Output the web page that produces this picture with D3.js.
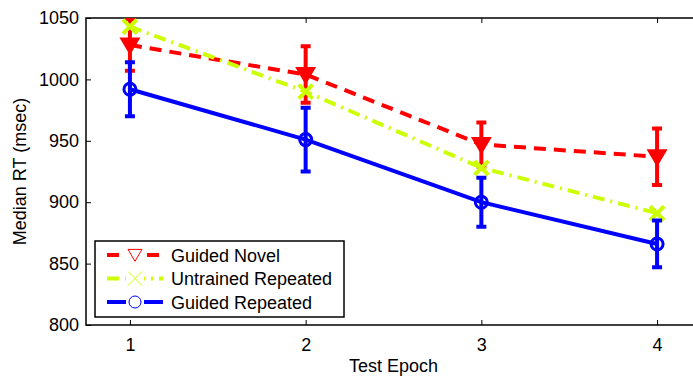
<!DOCTYPE html>
<html>
<head>
<meta charset="utf-8">
<script src="https://cdn.jsdelivr.net/npm/d3@7"></script>
<style>
  body { margin: 0; background: #fff; }
  text { font-family: "Liberation Sans", Arial, sans-serif; }
</style>
</head>
<body>
<svg id="chart" width="693" height="379"></svg>
<script>
// Data
const epochs = [1, 2, 3, 4];
const guidedNovel = [1028, 1004, 947, 937];
const guidedNovelErr = [21, 23, 18, 23];
const untrainedRepeated = [1043, 990, 928, 891];
const guidedRepeated = [992, 951, 900, 866];
const guidedRepeatedErr = [22, 26, 20, 19];
const yTicks = [800, 850, 900, 950, 1000, 1050];

const series = [
  { name: "Guided Novel", values: guidedNovel, err: guidedNovelErr, color: "#ff0000", dash: "12,8", marker: "tri" },
  { name: "Untrained Repeated", values: untrainedRepeated, err: null, color: "#ccff00", dash: "12,6,2,6", marker: "x" },
  { name: "Guided Repeated", values: guidedRepeated, err: guidedRepeatedErr, color: "#0000ff", dash: null, marker: "circle" },
];

const svg = d3.select("#chart");
const margin = { top: 18, left: 86 };
const width = 615; // right edge runs past the picture
const height = 307;

const g = svg.append("g").attr("transform", `translate(${margin.left},${margin.top})`);

const x = d3.scaleLinear().domain([0.75, 4.25]).range([0, width]);
const y = d3.scaleLinear().domain([800, 1050]).range([height, 0]);

svg.append("defs").append("clipPath").attr("id", "plot-clip")
  .append("rect").attr("x", 0).attr("y", 0).attr("width", width).attr("height", height);

// Axes (ticks point inward, like MATLAB)
const axisStyle = sel => {
  sel.select(".domain").remove();
  sel.selectAll("line").attr("stroke", "#000");
  sel.selectAll("text").style("font-size", "18px").attr("fill", "#000");
};

g.append("g").attr("transform", `translate(0,${height})`)
  .call(d3.axisBottom(x).tickValues(epochs).tickFormat(d3.format("d")).tickSizeInner(-5).tickPadding(13))
  .call(axisStyle);
g.append("g")
  .call(d3.axisTop(x).tickValues(epochs).tickFormat("").tickSizeInner(-5))
  .call(axisStyle);
g.append("g")
  .call(d3.axisLeft(y).tickValues(yTicks).tickFormat(d3.format("d")).tickSizeInner(-5).tickPadding(7))
  .call(axisStyle);

// Frame
g.append("path")
  .attr("d", `M${width},0H0V${height}H${width}`)
  .attr("fill", "none").attr("stroke", "#000").attr("stroke-width", 1.5);

// Axis labels
g.append("text")
  .attr("x", x(2.5)).attr("y", height + 47)
  .attr("text-anchor", "middle").style("font-size", "18px")
  .text("Test Epoch");
g.append("text")
  .attr("transform", `translate(${-60},${height / 2}) rotate(-90)`)
  .attr("text-anchor", "middle").style("font-size", "18px")
  .text("Median RT (msec)");

const drawMarker = (sel, type, color, size, sw) => {
  if (type === "tri") {
    sel.append("path")
      .attr("d", `M${-size},${-size * 0.8}L${size},${-size * 0.8}L0,${size * 0.9}Z`)
      .attr("fill", sw > 2 ? color : "none").attr("stroke", color).attr("stroke-width", sw);
  } else if (type === "x") {
    sel.append("path")
      .attr("d", `M${-size},${-size}L${size},${size}M${-size},${size}L${size},${-size}`)
      .attr("stroke", color).attr("stroke-width", sw);
  } else {
    sel.append("circle").attr("r", size)
      .attr("fill", "none").attr("stroke", color).attr("stroke-width", sw);
  }
};

const plot = g.append("g").attr("clip-path", "url(#plot-clip)");
const line = d3.line().x((d, i) => x(epochs[i])).y(d => y(d));

series.forEach(s => {
  const sg = plot.append("g");
  if (s.err) {
    s.values.forEach((v, i) => {
      const cx = x(epochs[i]);
      const y0 = y(v - s.err[i]);
      const y1 = y(v + s.err[i]);
      sg.append("path")
        .attr("d", `M${cx},${y0}V${y1}M${cx - 5},${y0}H${cx + 5}M${cx - 5},${y1}H${cx + 5}`)
        .attr("stroke", s.color).attr("stroke-width", 4).attr("fill", "none");
    });
  }
  sg.append("path")
    .datum(s.values)
    .attr("d", line)
    .attr("fill", "none")
    .attr("stroke", s.color)
    .attr("stroke-width", 4)
    .attr("stroke-dasharray", s.dash);
  s.values.forEach((v, i) => {
    const m = sg.append("g").attr("transform", `translate(${x(epochs[i])},${y(v)})`);
    drawMarker(m, s.marker, s.color, s.marker === "circle" ? 6 : 7, s.marker === "circle" ? 3 : 4);
  });
});

// Legend
const legend = g.append("g").attr("transform", "translate(9,223)");
legend.append("rect")
  .attr("width", 249).attr("height", 76)
  .attr("fill", "#fff").attr("stroke", "#000").attr("stroke-width", 1.5);
series.forEach((s, i) => {
  const ly = 14 + i * 23.5;
  const item = legend.append("g").attr("transform", `translate(0,${ly})`);
  item.append("line")
    .attr("x1", 12).attr("x2", 68).attr("y1", 0).attr("y2", 0)
    .attr("stroke", s.color).attr("stroke-width", 4)
    .attr("stroke-dasharray", s.dash);
  const m = item.append("g").attr("transform", "translate(40,0)");
  m.append("rect").attr("x", -9).attr("y", -9).attr("width", 18).attr("height", 18).attr("fill", "#fff");
  drawMarker(m, s.marker, s.color, s.marker === "circle" ? 6 : 7, 1);
  item.append("text")
    .attr("x", 76).attr("y", 6.5)
    .style("font-size", "18px")
    .text(s.name);
});
</script>
</body>
</html>
